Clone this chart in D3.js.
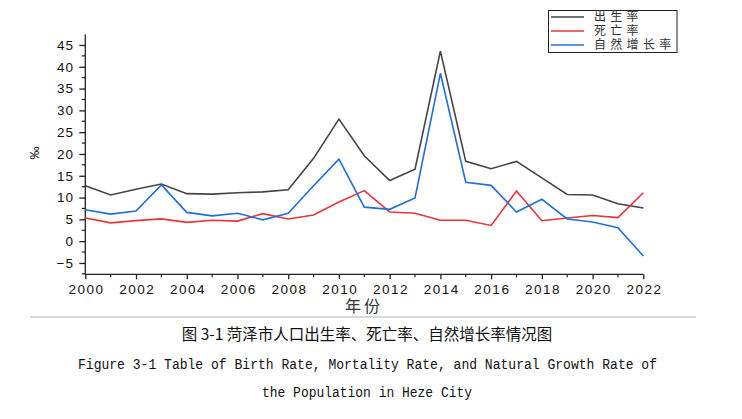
<!DOCTYPE html>
<html><head><meta charset="utf-8">
<script src="https://cdn.jsdelivr.net/npm/d3@7/dist/d3.min.js"></script>
<style>
html,body{margin:0;padding:0;background:#fff;}
svg{display:block;}
</style></head>
<body>
<script>
const years = [2000,2001,2002,2003,2004,2005,2006,2007,2008,2009,2010,2011,2012,2013,2014,2015,2016,2017,2018,2019,2020,2021,2022];
const birthRate = [12.7,10.6,11.9,13.1,10.9,10.8,11.1,11.3,11.8,19.0,28.0,19.6,13.9,16.5,43.6,18.3,16.6,18.3,14.5,10.7,10.6,8.6,7.6];
const deathRate = [5.3,4.2,4.7,5.1,4.3,4.8,4.6,6.3,5.1,6.0,9.0,11.6,6.7,6.4,4.8,4.8,3.6,11.5,4.7,5.3,5.9,5.4,11.1];
const growthRate = [7.2,6.2,6.9,12.9,6.6,5.8,6.4,4.9,6.4,12.7,18.8,7.8,7.3,9.9,38.5,13.5,12.8,6.7,9.6,5.1,4.4,3.1,-3.4];
const yTicks = [-5,0,5,10,15,20,25,30,35,40,45];
const xTicks = [2000,2002,2004,2006,2008,2010,2012,2014,2016,2018,2020,2022];
const seriesNames = ["出生率","死亡率","自然增长率"];
const seriesColors = ["#444444","#e8343c","#1e6fd9"];
const captionCN = "图 3-1 菏泽市人口出生率、死亡率、自然增长率情况图";
const captionEN1 = "Figure 3-1 Table of Birth Rate, Mortality Rate, and Natural Growth Rate of";
const captionEN2 = "the Population in Heze City";

const W = 742, H = 419;
const svg = d3.select("body").append("svg").attr("width", W).attr("height", H);

const x = d3.scaleLinear().domain([2000, 2022]).range([85.3, 643.3]);
const y = d3.scaleLinear().domain([-7.6, 47.4]).range([274.3, 34.5]);

const axisFont = "'Liberation Sans', Arial, sans-serif";

// Y axis
const yAxis = d3.axisLeft(y).tickValues(yTicks).tickSize(6).tickPadding(5).tickFormat(d3.format("d"));
const gy = svg.append("g").attr("transform", `translate(${x.range()[0]},0)`).call(yAxis);
gy.select(".domain").attr("d", `M0,${y.range()[0]}V${y.range()[1]}`).attr("stroke", "#222").attr("stroke-width", 1.3);
gy.selectAll(".tick line").attr("stroke", "#222").attr("stroke-width", 1.3);
gy.selectAll(".tick text").attr("font-family", axisFont).attr("font-size", 13.5).attr("fill", "#111").style("letter-spacing", "1.2px");
const yMinor = d3.range(-7.5, 47.5, 2.5).filter(v => !yTicks.includes(v));
gy.selectAll(".minor").data(yMinor).enter().append("line")
  .attr("x1", 0).attr("x2", -3.5).attr("y1", d => y(d)).attr("y2", d => y(d))
  .attr("stroke", "#222").attr("stroke-width", 1.2);

// X axis
const xAxis = d3.axisBottom(x).tickValues(xTicks).tickSize(5).tickPadding(5).tickFormat(d3.format("d"));
const gx = svg.append("g").attr("transform", `translate(0,${y.range()[0]})`).call(xAxis);
gx.select(".domain").attr("d", `M${x.range()[0]},0H${x.range()[1]}`).attr("stroke", "#222").attr("stroke-width", 1.3);
gx.selectAll(".tick line").attr("stroke", "#222").attr("stroke-width", 1.3);
gx.selectAll(".tick text").attr("font-family", axisFont).attr("font-size", 13.5).attr("fill", "#111").style("letter-spacing", "1.5px").attr("dx", "0.75px");
const xMinor = years.filter(v => !xTicks.includes(v));
gx.selectAll(".minor").data(xMinor).enter().append("line")
  .attr("x1", d => x(d)).attr("x2", d => x(d)).attr("y1", 0).attr("y2", 3)
  .attr("stroke", "#222").attr("stroke-width", 1.2);

// Axis titles
svg.append("text").attr("transform", "translate(39,153) rotate(-90)")
  .attr("text-anchor", "middle").attr("font-family", axisFont).attr("font-size", 13).attr("fill", "#111").text("‰");
svg.append("text").attr("x", 364).attr("y", 312).attr("text-anchor", "middle")
  .attr("font-family", "'Noto Sans CJK SC', sans-serif").attr("font-size", 16).attr("fill", "#333")
  .style("letter-spacing", "3px").text("年份");

// Lines
const allSeries = [birthRate, deathRate, growthRate];
const line = d3.line().x((d, i) => x(years[i])).y(d => y(d));
allSeries.forEach((s, k) => {
  svg.append("path").datum(s).attr("d", line).attr("fill", "none")
    .attr("stroke", seriesColors[k]).attr("stroke-width", 1.6).attr("stroke-linejoin", "miter");
});

// Legend
const lg = svg.append("g");
lg.append("rect").attr("x", 548.5).attr("y", 10.5).attr("width", 128.5).attr("height", 42)
  .attr("fill", "#fff").attr("stroke", "#222").attr("stroke-width", 1);
seriesNames.forEach((n, k) => {
  const cy = 17 + k * 14;
  lg.append("line").attr("x1", 551).attr("x2", 584).attr("y1", cy).attr("y2", cy)
    .attr("stroke", seriesColors[k]).attr("stroke-width", 1.5);
  lg.append("text").attr("x", 594).attr("y", cy + 4.2)
    .attr("font-family", "'Noto Sans CJK SC', sans-serif").attr("font-size", 12).attr("fill", "#333")
    .style("letter-spacing", "4.3px").text(n);
});

// Separator
svg.append("rect").attr("x", 30).attr("y", 316).attr("width", 666).attr("height", 2).attr("fill", "#d9d9d9");

// Captions
svg.append("text").attr("x", 367).attr("y", 340).attr("text-anchor", "middle")
  .attr("font-family", "'Noto Sans CJK SC', sans-serif").attr("font-size", 15.5).attr("fill", "#111")
  .text(captionCN);
svg.append("text").attr("x", 78).attr("y", 369).attr("textLength", 579).attr("lengthAdjust", "spacingAndGlyphs")
  .attr("font-family", "'Liberation Mono', monospace").attr("font-size", 14).attr("fill", "#111")
  .text(captionEN1);
svg.append("text").attr("x", 262).attr("y", 397).attr("textLength", 210).attr("lengthAdjust", "spacingAndGlyphs")
  .attr("font-family", "'Liberation Mono', monospace").attr("font-size", 14).attr("fill", "#111")
  .text(captionEN2);
</script>
</body></html>
